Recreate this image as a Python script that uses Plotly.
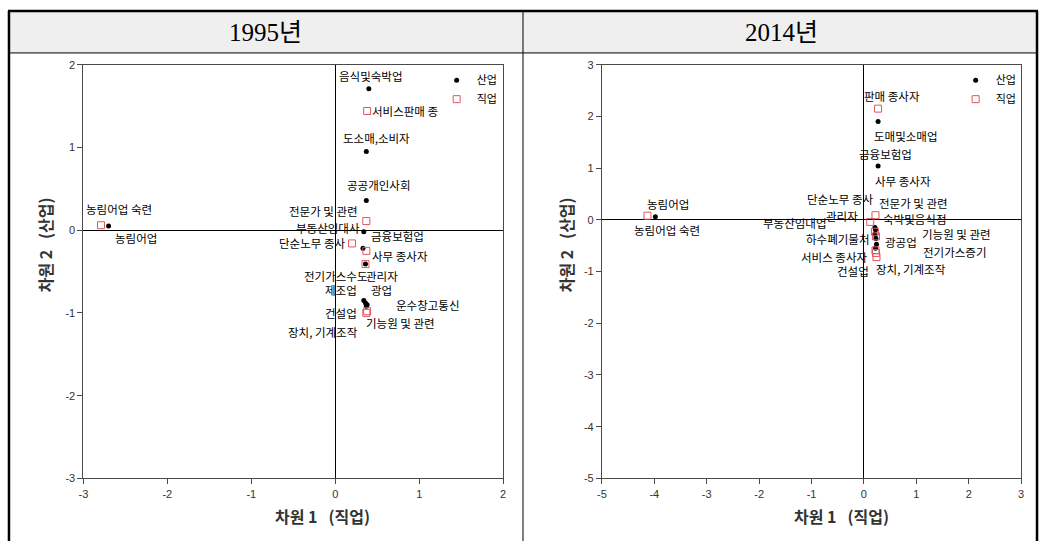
import plotly.graph_objects as go

# ---------------- 1995 ----------------
ind95_names = ["음식및숙박업", "도소매,소비자", "공공개인사회", "부동산임대사", "금융보험업",
               "전기가스수도", "광업", "제조업", "건설업", "운수창고통신", "농림어업"]
ind95_x = [0.40, 0.37, 0.37, 0.34, 0.33, 0.36, 0.36, 0.34, 0.37, 0.38, -2.70]
ind95_y = [1.71, 0.95, 0.36, -0.02, -0.22, -0.41, -0.88, -0.85, -0.92, -0.90, 0.05]

occ95_names = ["서비스판매 종", "전문가 및 관련", "단순노무 종사", "사무 종사자", "관리자",
               "기능원 및 관련", "장치, 기계조작", "농림어업 숙련"]
occ95_x = [0.38, 0.37, 0.20, 0.37, 0.36, 0.38, 0.37, -2.79]
occ95_y = [1.44, 0.11, -0.16, -0.25, -0.41, -0.98, -1.00, 0.06]

# ---------------- 2014 ----------------
ind14_names = ["농림어업", "도매및소매업", "금융보험업", "부동산임대업", "숙박및음식점",
               "하수폐기물처", "광공업", "전기가스증기", "건설업"]
ind14_x = [-3.98, 0.27, 0.27, 0.21, 0.22, 0.21, 0.23, 0.24, 0.22]
ind14_y = [0.06, 1.90, 1.04, -0.15, -0.19, -0.28, -0.36, -0.47, -0.55]

occ14_names = ["농림어업 숙련", "판매 종사자", "전문가 및 관련", "관리자", "단순노무 종사",
               "사무 종사자", "서비스 종사자", "기능원 및 관련", "장치, 기계조작"]
occ14_x = [-4.13, 0.27, 0.22, 0.12, 0.21, 0.23, 0.22, 0.23, 0.24]
occ14_y = [0.08, 2.15, 0.09, -0.04, -0.23, -0.32, -0.59, -0.64, -0.72]

year_titles = ["1995년", "2014년"]
x_title = "차원 1&nbsp;&nbsp;&nbsp;(직업)"
y_title = "차원 2&nbsp;&nbsp;&nbsp;(산업)"
legend_names = ["산업", "직업"]

ticks95 = [-3, -2, -1, 0, 1, 2]
ticks14 = [-5, -4, -3, -2, -1, 0, 1, 2, 3]
ticktext95 = ["-3", "-2", "-1", "0", "1", "2"]
ticktext14 = ["-5", "-4", "-3", "-2", "-1", "0", "1", "2", "3"]

# label placement: (xanchor, xshift px, yshift px)
lab_ind95 = {
    "음식및숙박업": ("center", 2, 13), "도소매,소비자": ("center", 10, 14),
    "공공개인사회": ("center", 12, 15), "부동산임대사": ("right", -2, 4),
    "금융보험업": ("left", 6, 12), "전기가스수도": ("right", 4, -12),
    "광업": ("left", 4, 13), "제조업": ("right", -5, 11), "건설업": ("right", -7, -7),
    "운수창고통신": ("left", 27, 0), "농림어업": ("left", 4, -12),
}
lab_occ95 = {
    "서비스판매 종": ("left", 3, 0), "전문가 및 관련": ("right", -6, 10),
    "단순노무 종사": ("right", -5, 0), "사무 종사자": ("left", 4, -5),
    "관리자": ("left", -1, -12), "기능원 및 관련": ("left", -3, -12),
    "장치, 기계조작": ("right", -6, -19), "농림어업 숙련": ("left", -17, 16),
}
lab_ind14 = {
    "농림어업": ("center", 13, 13), "도매및소매업": ("center", 27, -14),
    "금융보험업": ("center", 7, 12), "부동산임대업": ("right", -47, 5),
    "숙박및음식점": ("left", 6, 11), "하수폐기물처": ("right", -4, -5),
    "광공업": ("left", 7, -4), "전기가스증기": ("left", 45, -8), "건설업": ("right", -4, -23),
}
lab_occ14 = {
    "농림어업 숙련": ("center", 20, -14), "판매 종사자": ("center", 14, 13),
    "전문가 및 관련": ("left", 2, 12), "관리자": ("right", -10, 6),
    "단순노무 종사": ("right", 0, 33), "사무 종사자": ("center", 27, 55),
    "서비스 종사자": ("right", -6, -7), "기능원 및 관련": ("left", 44, 19),
    "장치, 기계조작": ("left", -2, -12),
}

W, H = 1043, 547
KFONT = "Noto Sans CJK KR"
DOT = dict(symbol="circle", size=5, color="black")
SQ = dict(symbol="square-open", size=7, color="rgb(226,86,96)", line=dict(width=1))

fig = go.Figure()

panels = [
    ("x", "y", "legend", ind95_names, ind95_x, ind95_y, occ95_names, occ95_x, occ95_y, lab_ind95, lab_occ95),
    ("x2", "y2", "legend2", ind14_names, ind14_x, ind14_y, occ14_names, occ14_x, occ14_y, lab_ind14, lab_occ14),
]

annotations = []
for xa, ya, lg, in_n, in_x, in_y, oc_n, oc_x, oc_y, lab_i, lab_o in panels:
    fig.add_trace(go.Scatter(x=in_x, y=in_y, mode="markers", marker=DOT, name=legend_names[0],
                             text=in_n, xaxis=xa, yaxis=ya, legend=lg, hoverinfo="text"))
    fig.add_trace(go.Scatter(x=oc_x, y=oc_y, mode="markers", marker=SQ, name=legend_names[1],
                             text=oc_n, xaxis=xa, yaxis=ya, legend=lg, hoverinfo="text"))
    for names, xs, ys, lab in ((in_n, in_x, in_y, lab_i), (oc_n, oc_x, oc_y, lab_o)):
        for n, x, y in zip(names, xs, ys):
            anc, dx, dy = lab[n]
            annotations.append(dict(x=x, y=y, xref=xa, yref=ya, text=n, showarrow=False,
                                    xanchor=anc, yanchor="middle", xshift=dx, yshift=dy,
                                    font=dict(family=KFONT, size=11.5, color="black")))

def px(v):
    return v / W

def py(v):
    return 1 - v / H

# plot areas (pixels)
left_box = (79, 502)
right_box = (601.5, 1024)
top, bottom = 60, 483

axis_common = dict(showgrid=False, zeroline=True, zerolinecolor="black", zerolinewidth=1,
                   showline=True, mirror=True, linecolor="#4a4a4a", linewidth=1,
                   ticks="outside", ticklen=5, tickcolor="#4a4a4a",
                   tickfont=dict(family="Liberation Sans", size=11, color="#333"))

fig.update_layout(
    width=W, height=H, margin=dict(l=0, r=0, t=0, b=0),
    paper_bgcolor="white", plot_bgcolor="white",
    xaxis=dict(domain=[px(left_box[0]), px(left_box[1])], range=[-3, 2], anchor="y",
               tickvals=ticks95, ticktext=ticktext95, **axis_common),
    yaxis=dict(domain=[py(bottom), py(top)], range=[-3, 2], anchor="x",
               tickvals=ticks95, ticktext=ticktext95, **axis_common),
    xaxis2=dict(domain=[px(right_box[0]), px(right_box[1])], range=[-5, 3], anchor="y2",
                tickvals=ticks14, ticktext=ticktext14, **axis_common),
    yaxis2=dict(domain=[py(bottom), py(top)], range=[-5, 3], anchor="x2",
                tickvals=ticks14, ticktext=ticktext14, **axis_common),
    legend=dict(x=px(435), y=py(61), xanchor="left", yanchor="top", bgcolor="rgba(0,0,0,0)",
                font=dict(family=KFONT, size=11, color="black"), itemwidth=30, tracegroupgap=0),
    legend2=dict(x=px(958), y=py(61), xanchor="left", yanchor="top", bgcolor="rgba(0,0,0,0)",
                 font=dict(family=KFONT, size=11, color="black"), itemwidth=30, tracegroupgap=0),
    hovermode="closest",
)

# table header and frame
shapes = [
    dict(type="rect", xref="paper", yref="paper", x0=px(4), x1=px(1040), y0=py(48), y1=py(5),
         fillcolor="#efefef", line=dict(width=0), layer="below"),
    dict(type="line", xref="paper", yref="paper", x0=px(3), x1=px(1041), y0=py(5), y1=py(5),
         line=dict(color="black", width=2.5)),
    dict(type="line", xref="paper", yref="paper", x0=px(4), x1=px(4), y0=0, y1=py(5),
         line=dict(color="black", width=2.5)),
    dict(type="line", xref="paper", yref="paper", x0=px(1040), x1=px(1040), y0=0, y1=py(5),
         line=dict(color="black", width=2.5)),
    dict(type="line", xref="paper", yref="paper", x0=px(4), x1=px(1040), y0=py(48), y1=py(48),
         line=dict(color="black", width=1)),
    dict(type="line", xref="paper", yref="paper", x0=px(522), x1=px(522), y0=0, y1=py(5),
         line=dict(color="black", width=1)),
]

for cx, t in zip((263, 782), year_titles):
    annotations.append(dict(x=px(cx), y=py(27), xref="paper", yref="paper", text=t, showarrow=False,
                            xanchor="center", yanchor="middle",
                            font=dict(family="Liberation Serif, " + KFONT, size=25, color="black")))

for cx in (320, 843):
    annotations.append(dict(x=px(cx), y=py(521), xref="paper", yref="paper", text="<b>" + x_title + "</b>",
                            showarrow=False, xanchor="center", yanchor="middle",
                            font=dict(family=KFONT, size=16, color="#333")))
for cx in (40, 565):
    annotations.append(dict(x=px(cx), y=py(244), xref="paper", yref="paper", text="<b>" + y_title + "</b>",
                            showarrow=False, xanchor="center", yanchor="middle", textangle=-90,
                            font=dict(family=KFONT, size=16, color="#333")))

fig.update_layout(shapes=shapes, annotations=annotations)
fig.write_html("out.html")
